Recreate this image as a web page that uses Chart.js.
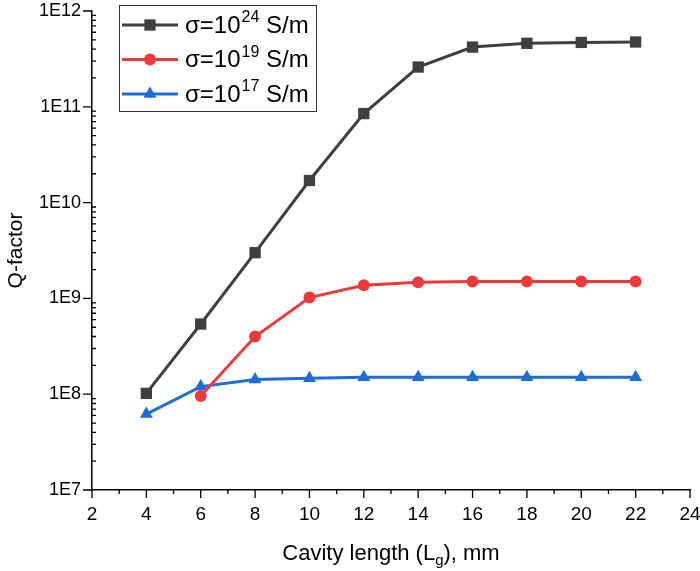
<!DOCTYPE html>
<html>
<head>
    <title>Q-factor vs cavity length</title>
    <script src="https://cdnjs.cloudflare.com/ajax/libs/Chart.js/4.4.1/chart.umd.min.js"></script>
    <style>
        body {
            margin: 0;
            background-color: #ffffff;
            font-family: 'Liberation Sans', Arial, sans-serif;
        }
        .chart-container {
            width: 700px;
            height: 571px;
        }
    </style>
</head>
<body>
    <div class="chart-container">
        <canvas id="qChart"></canvas>
    </div>

    <script>
        // Cavity length (mm)
        const lengths = [4, 6, 8, 10, 12, 14, 16, 18, 20, 22];
        // Q-factor per conductivity
        const q24 = [1.02e8, 5.4e8, 3.0e9, 1.7e10, 8.5e10, 2.6e11, 4.2e11, 4.6e11, 4.7e11, 4.75e11];
        const q19 = [null, 9.6e7, 4.0e8, 1.02e9, 1.37e9, 1.47e9, 1.5e9, 1.5e9, 1.5e9, 1.5e9];
        const q17 = [6.2e7, 1.2e8, 1.42e8, 1.47e8, 1.5e8, 1.5e8, 1.5e8, 1.5e8, 1.5e8, 1.5e8];
        const legendExp = ['24', '19', '17'];
        const yDecades = [1e7, 1e8, 1e9, 1e10, 1e11, 1e12];
        const xTicks = [2, 4, 6, 8, 10, 12, 14, 16, 18, 20, 22, 24];

        const FONT = "'Liberation Sans', Arial, sans-serif";
        const pts = arr => lengths.map((x, i) => ({x: x, y: arr[i]}));

        // tick marks like Origin: y major out, y minor in, x ticks out
        const tickPlugin = {
            id: 'ticks',
            afterDraw(chart) {
                const ctx = chart.ctx;
                const xs = chart.scales.x, ys = chart.scales.y;
                const left = chart.chartArea.left, bottom = chart.chartArea.bottom;
                ctx.save();
                ctx.strokeStyle = '#000';
                ctx.lineWidth = 1.3;
                ctx.beginPath();
                yDecades.forEach((d, i) => {
                    const py = ys.getPixelForValue(d);
                    ctx.moveTo(left - 9, py); ctx.lineTo(left, py);
                    if (i < yDecades.length - 1) {
                        for (let k = 2; k <= 9; k++) {
                            const my = ys.getPixelForValue(k * d);
                            ctx.moveTo(left, my); ctx.lineTo(left + 4, my);
                        }
                    }
                });
                for (let v = 2; v <= 24; v++) {
                    const px = xs.getPixelForValue(v);
                    const len = v % 2 === 0 ? 8 : 4;
                    ctx.moveTo(px, bottom); ctx.lineTo(px, bottom + len);
                }
                ctx.stroke();

                // x title with subscript g
                ctx.fillStyle = '#000';
                ctx.textBaseline = 'alphabetic';
                const big = '22px ' + FONT, small = '15px ' + FONT;
                const parts = [['Cavity length (L', big, 0], ['g', small, 5], ['), mm', big, 0]];
                let total = 0;
                parts.forEach(p => { ctx.font = p[1]; total += ctx.measureText(p[0]).width; });
                let cx = (chart.chartArea.left + chart.chartArea.right) / 2 - total / 2;
                parts.forEach(p => {
                    ctx.font = p[1];
                    ctx.fillText(p[0], cx, 560 + p[2]);
                    cx += ctx.measureText(p[0]).width;
                });
                ctx.restore();
            }
        };

        const legendPlugin = {
            id: 'boxLegend',
            afterDraw(chart) {
                const ctx = chart.ctx;
                ctx.save();
                ctx.strokeStyle = '#333';
                ctx.lineWidth = 1;
                ctx.strokeRect(119.5, 5.5, 197, 106);
                chart.data.datasets.forEach((ds, i) => {
                    const y = 25 + i * 34.5;
                    ctx.strokeStyle = ds.borderColor;
                    ctx.lineWidth = 3;
                    ctx.beginPath();
                    ctx.moveTo(122, y); ctx.lineTo(178, y);
                    ctx.stroke();
                    ctx.fillStyle = ds.pointBackgroundColor;
                    Chart.helpers.drawPoint(ctx, {pointStyle: ds.pointStyle, radius: ds.pointRadius, borderWidth: 0}, 150, y);
                    ctx.fillStyle = '#000';
                    ctx.textBaseline = 'middle';
                    let tx = 185;
                    ctx.font = '24px ' + FONT;
                    ctx.fillText('\u03c3=10', tx, y + 1);
                    tx += ctx.measureText('\u03c3=10').width + 1;
                    ctx.font = '16px ' + FONT;
                    ctx.fillText(legendExp[i], tx, y - 7);
                    tx += ctx.measureText(legendExp[i]).width;
                    ctx.font = '24px ' + FONT;
                    ctx.fillText(' S/m', tx, y + 1);
                });
                ctx.restore();
            }
        };

        function series(label, data, color, style, radius) {
            return {
                label: label,
                data: pts(data),
                borderColor: color,
                backgroundColor: color,
                pointBackgroundColor: color,
                pointBorderColor: color,
                pointBorderWidth: 0,
                pointStyle: style,
                pointRadius: radius,
                borderWidth: 3,
                tension: 0,
                spanGaps: false
            };
        }

        new Chart(document.getElementById('qChart'), {
            type: 'line',
            data: {
                datasets: [
                    series('\u03c3=10^24 S/m', q24, '#3f3f3f', 'rect', 8),
                    series('\u03c3=10^19 S/m', q19, '#ec3a3a', 'circle', 6),
                    series('\u03c3=10^17 S/m', q17, '#1d6cd8', 'triangle', 7.5)
                ]
            },
            options: {
                responsive: true,
                maintainAspectRatio: false,
                animation: false,
                layout: { padding: { top: 11, right: 10, left: 0, bottom: 0 } },
                plugins: {
                    legend: { display: false },
                    tooltip: { enabled: false }
                },
                scales: {
                    x: {
                        type: 'linear',
                        min: 2,
                        max: 24,
                        afterBuildTicks: s => { s.ticks = xTicks.map(v => ({value: v})); },
                        afterFit: s => { s.height = 81; s.paddingLeft = 0; s.paddingRight = 0; },
                        grid: { display: false, drawTicks: false },
                        border: { display: true, color: '#000', width: 1.5 },
                        ticks: {
                            padding: 13,
                            color: '#000',
                            font: { family: FONT, size: 19 }
                        }
                    },
                    y: {
                        type: 'logarithmic',
                        min: 1e7,
                        max: 1e12,
                        afterBuildTicks: s => { s.ticks = yDecades.map(v => ({value: v})); },
                        afterFit: s => { s.width = 92; s.paddingTop = 0; s.paddingBottom = 0; },
                        grid: { display: false, drawTicks: false },
                        border: { display: true, color: '#000', width: 1.5 },
                        ticks: {
                            padding: 11,
                            color: '#000',
                            font: { family: FONT, size: 18 },
                            callback: v => '1E' + Math.round(Math.log10(v))
                        },
                        title: {
                            display: true,
                            text: 'Q-factor',
                            color: '#000',
                            font: { family: FONT, size: 21 },
                            padding: { top: 4, bottom: 0 }
                        }
                    }
                }
            },
            plugins: [tickPlugin, legendPlugin]
        });
    </script>
</body>
</html>
